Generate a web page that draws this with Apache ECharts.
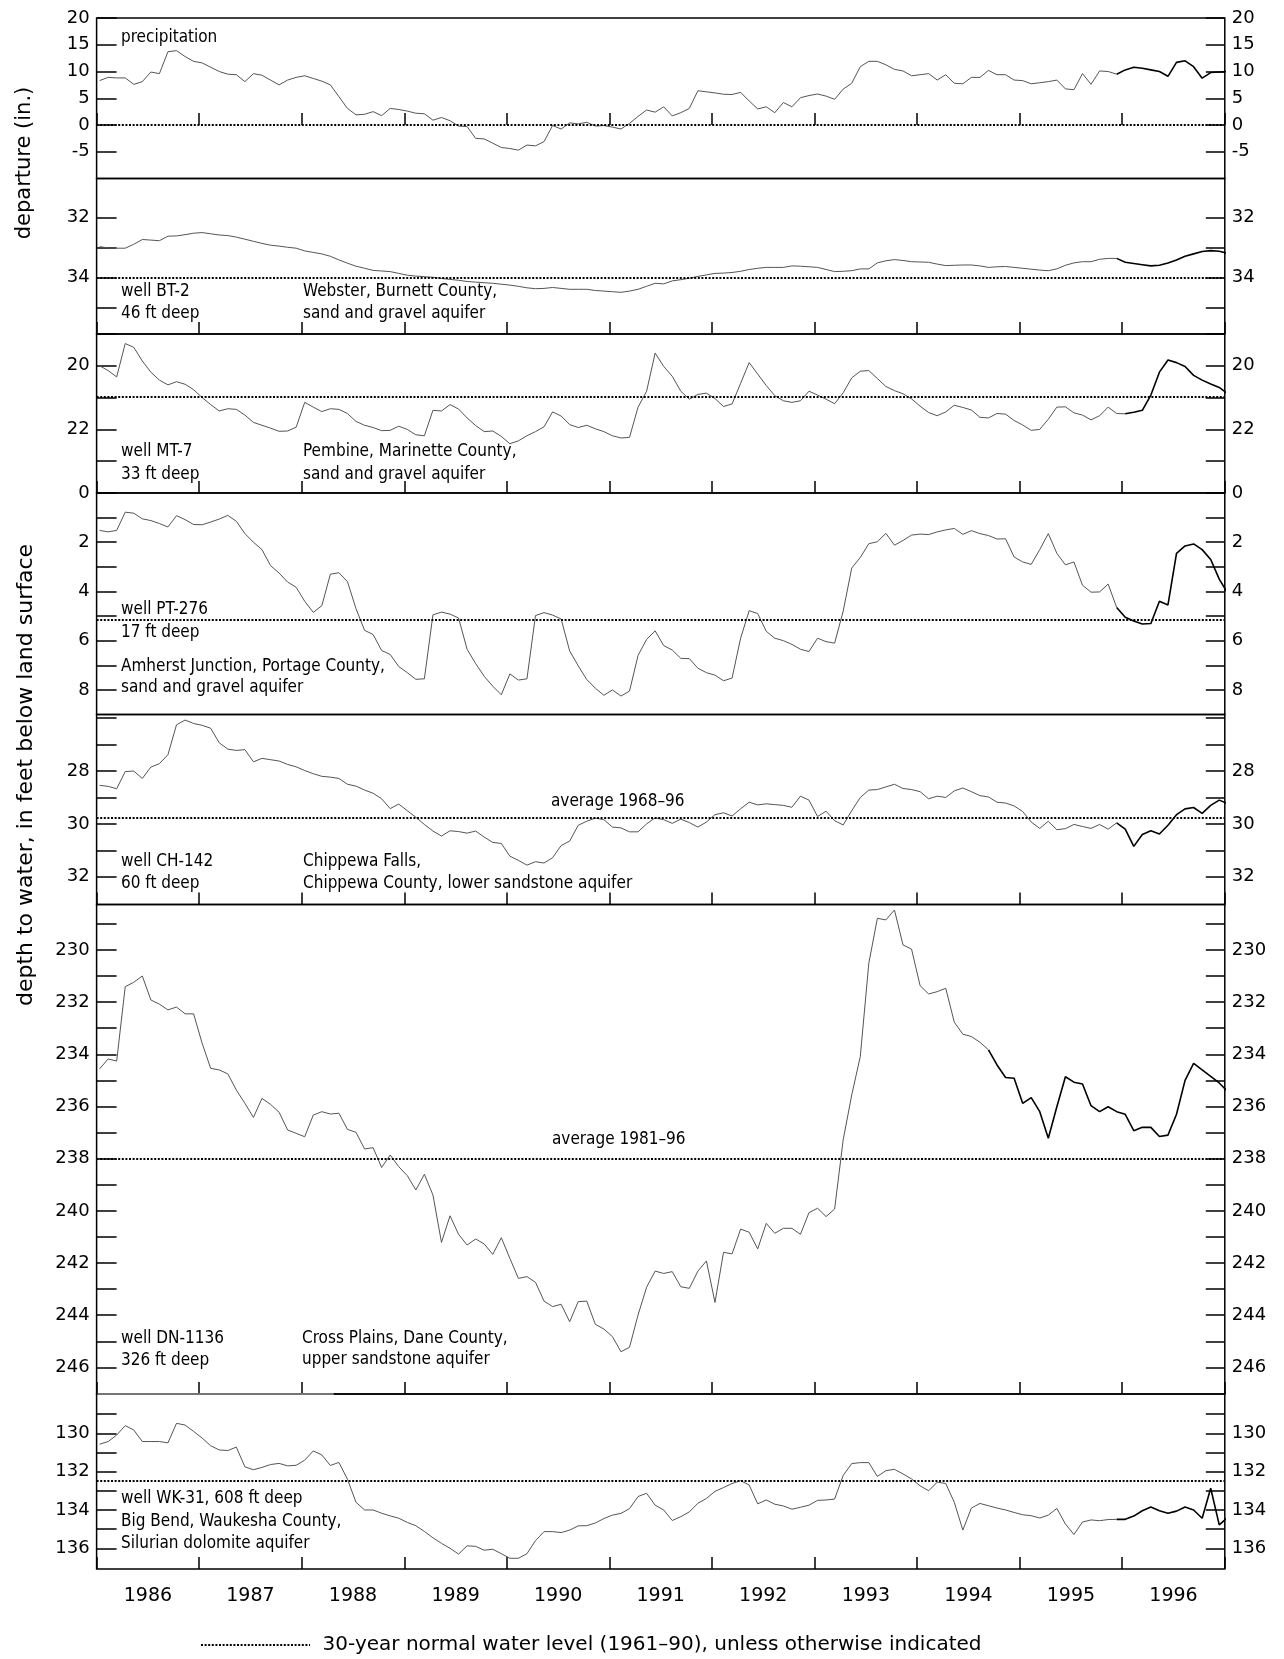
<!DOCTYPE html>
<html>
<head>
<meta charset="utf-8">
<title>Precipitation departure and ground-water levels, Wisconsin 1986-96</title>
<script src="https://cdn.jsdelivr.net/npm/echarts@6.0.0/dist/echarts.min.js"></script>
<style>
  html, body { margin: 0; padding: 0; background: #fff; }
  #chart { width: 1284px; height: 1659px; }
</style>
</head>
<body>
<div id="chart"></div>
<script>
// monthly readings, Jan 1986 .. Jan 1997 (133 values each)
const precipDeparture = [
  8.3, 8.9, 8.8, 8.8, 7.6, 8.1, 9.9, 9.6, 13.7, 13.9,
  12.8, 11.9, 11.6, 10.8, 10.0, 9.5, 9.4, 8.1, 9.6, 9.3,
  8.4, 7.5, 8.4, 8.9, 9.2, 8.7, 8.2, 7.5, 5.3, 3.1,
  1.9, 2.0, 2.5, 1.75, 3.1, 2.9, 2.6, 2.2, 2.1, 0.9,
  1.4, 0.8, -0.2, -0.3, -2.5, -2.6, -3.4, -4.2, -4.4, -4.7,
  -3.75, -3.9, -3.1, -0.1, -0.75, 0.4, 0.2, 0.5, -0.2, -0.1,
  -0.4, -0.75, 0.3, 1.6, 2.8, 2.4, 3.4, 1.7, 2.3, 3.1,
  6.4, 6.2, 6.0, 5.75, 5.7, 6.1, 4.5, 3.0, 3.4, 2.3,
  4.2, 3.4, 5.1, 5.5, 5.8, 5.4, 4.8, 6.7, 7.8, 10.9,
  11.9, 11.9, 11.25, 10.4, 10.1, 9.2, 9.4, 9.6, 8.4, 9.4,
  7.8, 7.7, 8.9, 8.9, 10.2, 9.4, 9.4, 8.4, 8.3, 7.7,
  7.9, 8.1, 8.4, 6.75, 6.6, 9.6, 7.6, 10.1, 10.0, 9.5,
  10.3, 10.8, 10.6, 10.3, 10.0, 9.1, 11.7, 12.0, 10.9, 8.75,
  9.8, 9.9, 10.0
];
const wellBT2 = [
  32.98, 33.02, 33.03, 33.03, 32.9, 32.74, 32.76, 32.78, 32.63, 32.62,
  32.58, 32.53, 32.51, 32.55, 32.59, 32.61, 32.66, 32.73, 32.8, 32.87,
  32.93, 32.96, 33.0, 33.03, 33.12, 33.17, 33.22, 33.3, 33.42, 33.53,
  33.63, 33.7, 33.77, 33.79, 33.81, 33.87, 33.93, 33.96, 33.98, 34.0,
  34.04, 34.07, 34.1, 34.14, 34.16, 34.18, 34.2, 34.23, 34.26, 34.3,
  34.35, 34.38, 34.37, 34.34, 34.37, 34.4, 34.4, 34.4, 34.44, 34.46,
  34.48, 34.5, 34.46, 34.4, 34.3, 34.2, 34.22, 34.12, 34.08, 34.03,
  33.97, 33.92, 33.87, 33.86, 33.84, 33.8, 33.74, 33.7, 33.67, 33.67,
  33.67, 33.62, 33.63, 33.65, 33.67, 33.74, 33.81, 33.8, 33.78, 33.72,
  33.72, 33.52, 33.45, 33.41, 33.44, 33.48, 33.49, 33.5, 33.56, 33.61,
  33.6, 33.59, 33.59, 33.62, 33.67, 33.65, 33.64, 33.67, 33.7, 33.73,
  33.76, 33.78, 33.72, 33.6, 33.52, 33.48, 33.48, 33.4, 33.37, 33.37,
  33.5, 33.54, 33.58, 33.62, 33.6, 33.52, 33.42, 33.3, 33.22, 33.14,
  33.11, 33.13, 33.2
];
const wellMT7 = [
  20.0, 20.15, 20.35, 19.3, 19.42, 19.85, 20.2, 20.45, 20.6, 20.5,
  20.58, 20.75, 21.0, 21.22, 21.42, 21.35, 21.37, 21.55, 21.78, 21.87,
  21.96, 22.06, 22.05, 21.93, 21.15, 21.3, 21.44, 21.35, 21.37, 21.5,
  21.75, 21.87, 21.94, 22.04, 22.03, 21.9, 22.0, 22.17, 22.2, 21.4,
  21.42, 21.22, 21.36, 21.64, 21.88, 22.07, 22.05, 22.22, 22.45, 22.36,
  22.2, 22.07, 21.92, 21.45, 21.58, 21.85, 21.94, 21.87, 21.98, 22.07,
  22.2, 22.27, 22.25, 21.3, 20.8, 19.6, 20.02, 20.33, 20.8, 21.05,
  20.9, 20.86, 21.03, 21.28, 21.2, 20.55, 19.9, 20.26, 20.62, 20.94,
  21.1, 21.15, 21.1, 20.8, 20.92, 21.05, 21.19, 20.85, 20.38, 20.17,
  20.15, 20.4, 20.65, 20.78, 20.88, 21.04, 21.27, 21.47, 21.57, 21.45,
  21.24, 21.31, 21.39, 21.62, 21.64, 21.5, 21.52, 21.72, 21.86, 22.03,
  22.0, 21.68, 21.3, 21.29, 21.48, 21.55, 21.7, 21.57, 21.3, 21.5,
  21.51, 21.46, 21.4, 20.92, 20.2, 19.82, 19.9, 20.02, 20.3, 20.45,
  20.57, 20.68, 20.88
];
const wellPT276 = [
  1.52, 1.58, 1.52, 0.78, 0.82, 1.05, 1.12, 1.24, 1.38, 0.92,
  1.08, 1.28, 1.29, 1.18, 1.06, 0.91, 1.15, 1.65, 2.0, 2.3,
  2.95, 3.25, 3.62, 3.83, 4.4, 4.85, 4.58, 3.3, 3.24, 3.6,
  4.7, 5.58, 5.75, 6.4, 6.56, 7.05, 7.3, 7.57, 7.55, 4.95,
  4.84, 4.92, 5.08, 6.35, 6.93, 7.45, 7.85, 8.2, 7.35, 7.6,
  7.55, 4.98, 4.86, 4.96, 5.12, 6.42, 7.02, 7.58, 7.93, 8.22,
  8.0, 8.25, 8.05, 6.6, 5.95, 5.6, 6.2, 6.38, 6.72, 6.73,
  7.12, 7.3, 7.4, 7.63, 7.52, 5.9, 4.78, 4.9, 5.62, 5.9,
  6.0, 6.15, 6.35, 6.44, 5.9, 6.04, 6.1, 4.8, 3.05, 2.62,
  2.06, 1.98, 1.64, 2.12, 1.93, 1.71, 1.67, 1.69, 1.58, 1.5,
  1.44, 1.68, 1.53, 1.65, 1.73, 1.87, 1.86, 2.6, 2.8, 2.9,
  2.3, 1.65, 2.45, 2.92, 2.8, 3.75, 4.03, 4.02, 3.7, 4.65,
  5.05, 5.2, 5.32, 5.3, 4.4, 4.55, 2.45, 2.15, 2.07, 2.3,
  2.7, 3.5, 4.08
];
const wellCH142 = [
  28.54, 28.58, 28.67, 28.02, 28.0, 28.28, 27.85, 27.72, 27.38, 26.25,
  26.07, 26.2, 26.27, 26.38, 26.93, 27.17, 27.22, 27.19, 27.65, 27.52,
  27.57, 27.62, 27.75, 27.84, 27.98, 28.1, 28.2, 28.23, 28.28, 28.5,
  28.57, 28.72, 28.84, 29.05, 29.42, 29.25, 29.5, 29.75, 30.02, 30.27,
  30.46, 30.26, 30.29, 30.35, 30.27, 30.5, 30.7, 30.74, 31.22, 31.38,
  31.56, 31.43, 31.48, 31.28, 30.82, 30.65, 30.05, 29.9, 29.78, 29.84,
  30.12, 30.15, 30.3, 30.3, 30.0, 29.77, 29.84, 29.98, 29.82, 29.95,
  30.12, 29.93, 29.65, 29.58, 29.7, 29.43, 29.18, 29.28, 29.24, 29.27,
  29.3, 29.37, 28.95, 29.1, 29.72, 29.52, 29.88, 30.04, 29.5, 29.0,
  28.72, 28.7, 28.6, 28.5, 28.66, 28.7, 28.78, 29.05, 28.95, 29.0,
  28.75, 28.64, 28.78, 28.93, 28.98, 29.18, 29.21, 29.32, 29.53, 29.93,
  30.17, 29.9, 30.22, 30.18, 30.02, 30.1, 30.17, 30.02, 30.2, 29.96,
  30.2, 30.85, 30.4, 30.26, 30.38, 30.05, 29.65, 29.43, 29.38, 29.6,
  29.3, 29.1, 29.23
];
const wellDN1136 = [
  234.56, 234.18, 234.26, 231.41, 231.24, 231.0, 231.92, 232.08, 232.3, 232.19,
  232.45, 232.45, 233.58, 234.54, 234.6, 234.75, 235.37, 235.88, 236.42, 235.69,
  235.92, 236.22, 236.9, 237.03, 237.16, 236.33, 236.2, 236.29, 236.26, 236.88,
  236.99, 237.63, 237.58, 238.34, 237.86, 238.31, 238.65, 239.2, 238.6, 239.39,
  241.21, 240.19, 240.9, 241.31, 241.08, 241.27, 241.67, 241.03, 241.82, 242.59,
  242.52, 242.74, 243.46, 243.67, 243.58, 244.25, 243.48, 243.46, 244.35, 244.53,
  244.82, 245.4, 245.23, 243.99, 242.93, 242.31, 242.4, 242.33, 242.91, 242.97,
  242.31, 241.92, 243.51, 241.59, 241.65, 240.7, 240.82, 241.46, 240.48, 240.86,
  240.67, 240.67, 240.9, 240.07, 239.9, 240.22, 239.93, 237.28, 235.56, 234.09,
  230.51, 228.79, 228.85, 228.47, 229.81, 229.97, 231.37, 231.69, 231.6, 231.47,
  232.77, 233.23, 233.32, 233.54, 233.83, 234.41, 234.89, 234.92, 235.88, 235.66,
  236.2, 237.22, 236.01, 234.86, 235.07, 235.14, 235.97, 236.2, 236.01, 236.2,
  236.3, 236.93, 236.8, 236.8, 237.15, 237.1, 236.3, 235.0, 234.35, 234.6,
  234.85, 235.1, 235.43
];
const wellWK31 = [
  130.57, 130.43, 130.09, 129.6, 129.83, 130.43, 130.43, 130.43, 130.5, 129.48,
  129.57, 129.9, 130.25, 130.65, 130.87, 130.9, 130.72, 131.75, 131.9, 131.78,
  131.63, 131.57, 131.7, 131.67, 131.4, 130.92, 131.13, 131.68, 131.52, 132.4,
  133.6, 134.0, 134.0, 134.17, 134.31, 134.43, 134.65, 134.82, 135.12, 135.45,
  135.74, 136.0, 136.3, 135.87, 135.9, 136.1, 136.05, 136.28, 136.52, 136.52,
  136.28, 135.6, 135.13, 135.13, 135.18, 135.05, 134.83, 134.82, 134.68, 134.45,
  134.27, 134.18, 133.93, 133.3, 133.13, 133.75, 134.0, 134.55, 134.35, 134.1,
  133.65, 133.4, 133.03, 132.83, 132.62, 132.47, 132.7, 133.68, 133.48, 133.7,
  133.79, 133.96, 133.86, 133.75, 133.5, 133.48, 133.43, 132.2, 131.58, 131.53,
  131.53, 132.25, 131.95, 131.88, 132.12, 132.38, 132.74, 133.0, 132.55, 132.62,
  133.6, 135.05, 133.9, 133.66, 133.78, 133.9, 134.0, 134.13, 134.25, 134.3,
  134.42, 134.27, 133.92, 134.73, 135.28, 134.63, 134.52, 134.56, 134.5, 134.49,
  134.49, 134.32, 134.04, 133.84, 134.04, 134.17, 134.06, 133.85, 134.0, 134.43,
  132.87, 134.78, 134.38
];

// reference levels (dotted lines)
const normalLevels = { precip: 0, BT2: 34.0, MT7: 20.96, PT276: 5.17, CH142: 29.76, DN1136: 238.0, WK31: 132.5 };
// index where the darker (recent) part of each record starts
const recentFrom = { precip: 119, BT2: 119, MT7: 120, PT276: 119, CH142: 119, DN1136: 104, WK31: 119 };

// tick marks and tick labels
const yearLabels = ['1986', '1987', '1988', '1989', '1990', '1991', '1992', '1993', '1994', '1995', '1996'];
const precipTicks = [-5, 0, 5, 10, 15, 20];
const bt2Ticks = [32, 33, 34, 35], bt2Labels = [32, 34];
const mt7Ticks = [19, 20, 21, 22, 23], mt7Labels = [20, 22];
const pt276Ticks = [0, 1, 2, 3, 4, 5, 6, 7, 8], pt276Labels = [0, 2, 4, 6, 8];
const ch142Ticks = [26, 27, 28, 29, 30, 31, 32], ch142Labels = [28, 30, 32];
const dn1136Ticks = [229, 230, 231, 232, 233, 234, 235, 236, 237, 238, 239, 240, 241, 242, 243, 244, 245, 246];
const dn1136Labels = [230, 232, 234, 236, 238, 240, 242, 244, 246];
const wk31Ticks = [129, 130, 131, 132, 133, 134, 135, 136], wk31Labels = [130, 132, 134, 136];

const FONT = '"DejaVu Sans Condensed", "DejaVu Sans", sans-serif';
const FONT_WIDE = '"DejaVu Sans", sans-serif';
const PLOT_LEFT = 96.6, PLOT_WIDTH = 1128.2;

const panels = [
  { key: 'precip', data: precipDeparture, top: 18, height: 160.5, min: -10, max: 20, inverse: false, ticks: precipTicks, labels: precipTicks },
  { key: 'BT2', data: wellBT2, top: 178.5, height: 155.5, min: 30.707, max: 35.89, inverse: true, ticks: bt2Ticks, labels: bt2Labels },
  { key: 'MT7', data: wellMT7, top: 334, height: 159, min: 19, max: 24, inverse: true, ticks: mt7Ticks, labels: mt7Labels },
  { key: 'PT276', data: wellPT276, top: 493, height: 221.5, min: 0, max: 9, inverse: true, ticks: pt276Ticks, labels: pt276Labels },
  { key: 'CH142', data: wellCH142, top: 714.5, height: 190, min: 25.86, max: 33.05, inverse: true, ticks: ch142Ticks, labels: ch142Labels },
  { key: 'DN1136', data: wellDN1136, top: 904.5, height: 489.5, min: 228.26, max: 247.02, inverse: true, ticks: dn1136Ticks, labels: dn1136Labels },
  { key: 'WK31', data: wellWK31, top: 1394, height: 175, min: 127.95, max: 137.08, inverse: true, ticks: wk31Ticks, labels: wk31Labels }
];

// month i -> decimal year
const toYear = i => 1986 + (i + 0.35) / 12;

const grids = [], xAxes = [], yAxes = [], series = [];

panels.forEach((p, i) => {
  grids.push({
    left: PLOT_LEFT, top: p.top, width: PLOT_WIDTH, height: p.height,
    show: true, borderColor: '#000', borderWidth: 1.5, containLabel: false, outerBoundsMode: 'none'
  });
  xAxes.push({
    type: 'value', gridIndex: i, min: 1986, max: 1997, interval: 1,
    axisLine: { show: false },
    axisTick: { show: true, inside: true, length: 12, lineStyle: { color: '#000', width: 1.5 } },
    axisLabel: { show: false },
    splitLine: { show: false }
  });
  ['left', 'right'].forEach(side => {
    yAxes.push({
      type: 'value', gridIndex: i, position: side, inverse: p.inverse, min: p.min, max: p.max,
      axisLine: { show: false },
      axisTick: { show: true, inside: true, length: side === 'left' ? 20 : 19, customValues: p.ticks, lineStyle: { color: '#000', width: 1.5 } },
      axisLabel: { customValues: p.labels, margin: 7, fontSize: 18, color: '#000', fontFamily: FONT_WIDE },
      splitLine: { show: false }
    });
  });

  const pts = p.data.map((v, k) => [toYear(k), v]);
  const cut = recentFrom[p.key];
  series.push({
    type: 'line', xAxisIndex: i, yAxisIndex: i * 2, showSymbol: false, silent: true,
    data: pts.slice(0, cut + 1),
    lineStyle: { color: '#555', width: 1 },
    markLine: {
      silent: true, symbol: 'none', label: { show: false },
      lineStyle: { type: [2, 1.6], color: '#000', width: 2 },
      data: [{ yAxis: normalLevels[p.key] }]
    }
  });
  series.push({
    type: 'line', xAxisIndex: i, yAxisIndex: i * 2, showSymbol: false, silent: true,
    data: pts.slice(cut),
    lineStyle: { color: '#000', width: 1.6 }
  });
});

// year labels centred between the ticks of the bottom panel
xAxes.push({
  type: 'category', gridIndex: 6, position: 'bottom', data: yearLabels, boundaryGap: true,
  axisLine: { show: false }, axisTick: { show: false },
  axisLabel: { interval: 0, margin: 18, fontSize: 19, color: '#000', fontFamily: FONT_WIDE }
});

// annotation text: [text, x, baseline]
const notes = [
  ['precipitation', 121, 43],
  ['well BT-2', 121, 297], ['46 ft deep', 121, 318.5],
  ['Webster, Burnett County,', 303, 297], ['sand and gravel aquifer', 303, 318.5],
  ['well MT-7', 121, 457], ['33 ft deep', 121, 480],
  ['Pembine, Marinette County,', 303, 457], ['sand and gravel aquifer', 303, 480],
  ['well PT-276', 121, 615], ['17 ft deep', 121, 638],
  ['Amherst Junction, Portage County,', 121, 671.5], ['sand and gravel aquifer', 121, 693],
  ['average 1968\u201396', 551, 806.5],
  ['well CH-142', 121, 867], ['60 ft deep', 121, 889],
  ['Chippewa Falls,', 303, 867], ['Chippewa County, lower sandstone aquifer', 303, 889],
  ['average 1981\u201396', 552, 1145],
  ['well DN-1136', 121, 1344], ['326 ft deep', 121, 1366],
  ['Cross Plains, Dane County,', 302, 1343.5], ['upper sandstone aquifer', 302, 1365],
  ['well WK-31, 608 ft deep', 121, 1504], ['Big Bend, Waukesha County,', 121, 1526.5],
  ['Silurian dolomite aquifer', 121, 1549]
];
const NOTE_SIZE = 17;

const graphics = notes.map(([t, x, base]) => ({
  type: 'text', z: 50, silent: true,
  style: { text: t, x: x, y: base - 0.3 * NOTE_SIZE, verticalAlign: 'middle', align: 'left', font: NOTE_SIZE + 'px ' + FONT, fill: '#000' }
}));

graphics.push(
  { type: 'text', z: 50, rotation: Math.PI / 2, x: 25, y: 163,
    style: { text: 'departure (in.)', align: 'center', verticalAlign: 'middle', font: '21px ' + FONT_WIDE, fill: '#000' } },
  { type: 'text', z: 50, rotation: Math.PI / 2, x: 26, y: 775,
    style: { text: 'depth to water, in feet below land surface', align: 'center', verticalAlign: 'middle', font: '22px ' + FONT_WIDE, fill: '#000' } },
  // legend
  { type: 'line', z: 50, shape: { x1: 201, y1: 1645, x2: 310, y2: 1645 },
    style: { stroke: '#000', lineWidth: 2, lineDash: [2, 1.6] } },
  { type: 'text', z: 50, style: { text: '30-year normal water level (1961\u201390), unless otherwise indicated', x: 322.6, y: 1651 - 0.3 * 20, verticalAlign: 'middle', font: '20px ' + FONT_WIDE, fill: '#000' } },
  // lighter stretch of the border under the DN-1136 panel
  { type: 'line', z: 60, shape: { x1: 97.5, y1: 1394, x2: 333.7, y2: 1394 },
    style: { stroke: '#999', lineWidth: 1.6 } }
);

const chart = echarts.init(document.getElementById('chart'), null, { renderer: 'canvas' });
chart.setOption({
  animation: false,
  backgroundColor: '#fff',
  grid: grids,
  xAxis: xAxes,
  yAxis: yAxes,
  series: series,
  graphic: graphics
});
</script>
</body>
</html>
